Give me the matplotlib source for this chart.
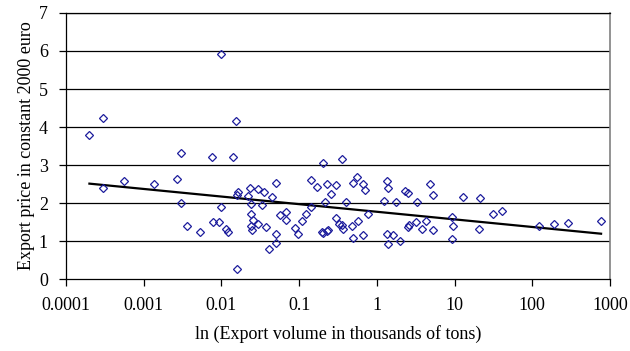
import numpy as np
import matplotlib
matplotlib.use("Agg")
import matplotlib.pyplot as plt

# export volume (thousands of tons) and export price (constant 2000 euro)
volume = [0.0002, 0.0003, 0.0003, 0.00055, 0.00135, 0.00266, 0.00305, 0.00299,
          0.00357, 0.0053, 0.0075, 0.00773, 0.0094, 0.0099, 0.0099, 0.01146,
          0.01205, 0.01397, 0.01528, 0.01586, 0.01649, 0.016, 0.02333, 0.0222,
          0.02985, 0.0353, 0.05, 0.0444, 0.024, 0.0336, 0.024, 0.0257,
          0.0293, 0.0238, 0.0245, 0.0372, 0.0567, 0.0678, 0.0671, 0.05,
          0.05, 0.0413, 0.0885, 0.0975, 0.11, 0.1216, 0.201, 0.356,
          0.141, 0.168, 0.229, 0.296, 0.255, 0.561, 0.498, 0.658,
          0.704, 0.215, 0.405, 0.141, 0.195, 0.205, 0.237, 0.226,
          0.296, 0.329, 0.353, 0.37, 0.483, 0.488, 0.577, 0.658,
          0.776, 1.34, 1.41, 2.3, 2.49, 4.83, 5.24, 1.24,
          1.75, 3.26, 1.36, 1.6, 1.38, 1.99, 2.54, 2.62,
          3.19, 4.26, 3.78, 5.33, 12.7, 21.2, 31, 40.5,
          9.2, 9.6, 9.2, 20.8, 123, 192, 291, 767]
price = [3.79, 4.24, 2.39, 2.57, 2.50, 2.62, 3.32, 2.00,
         1.40, 1.25, 3.20, 1.49, 1.50, 1.89, 5.92, 1.31,
         1.24, 3.20, 4.16, 0.27, 2.30, 2.21, 2.39, 2.19,
         2.36, 2.29, 2.52, 2.17, 1.97, 1.96, 1.70, 1.55,
         1.46, 1.40, 1.29, 1.38, 1.68, 1.76, 1.55, 1.18,
         0.94, 0.79, 1.33, 1.18, 1.53, 1.71, 3.04, 3.16,
         2.61, 2.41, 2.50, 2.47, 2.24, 2.69, 2.53, 2.49,
         2.34, 2.03, 2.03, 1.90, 1.24, 1.20, 1.30, 1.27,
         1.60, 1.46, 1.42, 1.31, 1.39, 1.07, 1.53, 1.16,
         1.71, 2.59, 2.40, 2.32, 2.26, 2.49, 2.21, 2.06,
         2.03, 2.03, 1.18, 1.16, 0.92, 1.00, 1.36, 1.42,
         1.51, 1.54, 1.32, 1.29, 2.17, 2.12, 1.71, 1.80,
         1.64, 1.40, 1.06, 1.31, 1.39, 1.44, 1.47, 1.53]

# logarithmic trend line: price = a + b * ln(volume)
trend_a = 1.77
trend_b = -0.0869

xticks = [0.0001, 0.001, 0.01, 0.1, 1, 10, 100, 1000]
xticklabels = ["0.0001", "0.001", "0.01", "0.1", "1", "10", "100", "1000"]
yticks = [0, 1, 2, 3, 4, 5, 6, 7]

plt.rcParams['font.family'] = ['Liberation Serif', 'DejaVu Serif']
plt.rcParams['font.size'] = 13

fig = plt.figure(figsize=(6.3, 3.51), dpi=100)
ax = fig.add_axes([0.1048, 0.205, 0.8635, 0.758])

ax.set_xscale('log')
ax.set_xlim(0.0001, 1000)
ax.set_ylim(0, 7)

for y in yticks[1:]:
    ax.axhline(y, color='black', lw=0.9, zorder=1)

ax.plot(volume, price, linestyle='none', marker='D', markersize=4.0,
        markerfacecolor='none', markeredgecolor='#1c1c9c', markeredgewidth=0.9,
        zorder=3)

xt = np.logspace(np.log10(min(volume)), np.log10(max(volume)), 50)
ax.plot(xt, trend_a + trend_b * np.log(xt), color='black', lw=1.6, zorder=2)

ax.set_xticks(xticks)
ax.set_xticklabels(xticklabels)
ax.xaxis.set_minor_locator(matplotlib.ticker.NullLocator())
ax.set_yticks(yticks)
ax.tick_params(direction='out', length=5, width=0.9, colors='black', pad=8)

for s in ['left', 'bottom', 'top']:
    ax.spines[s].set_color('black')
    ax.spines[s].set_linewidth(0.9)
ax.spines['right'].set_color('#808080')
ax.spines['right'].set_linewidth(1.2)

ax.set_xlabel("ln (Export volume in thousands of tons)", labelpad=8)
ax.set_ylabel("Export price in constant 2000 euro", labelpad=3)

fig.savefig("out.png", dpi=100)
